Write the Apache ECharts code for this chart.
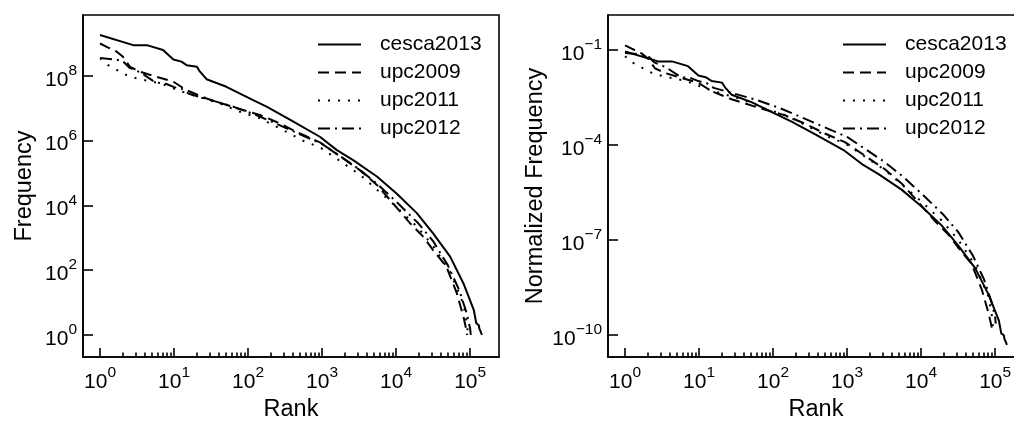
<!DOCTYPE html>
<html><head><meta charset="utf-8">
<script src="https://cdn.jsdelivr.net/npm/echarts@6/dist/echarts.min.js"></script>
<style>html,body{margin:0;padding:0;background:#fff}#c{width:1014px;height:425px}</style>
</head><body><div id="c"></div>
<script>
// ---- data (rank, raw frequency) ----
const seriesNames = ['cesca2013', 'upc2009', 'upc2011', 'upc2012'];

const cescaRank = [1, 2.8, 4.3, 7.1, 9.8, 12.6, 14.8, 20.4, 22.4, 27.5, 51, 117, 178, 372, 933, 1585, 2630, 5500, 10230, 19050, 31600, 53700, 81300, 112200, 121000, 131000, 133000, 144500];
const cescaFreq = [1.82e9, 8.9e8, 8.9e8, 6.3e8, 3.2e8, 2.75e8, 2.14e8, 1.9e8, 1.35e8, 7.9e7, 4.6e7, 1.78e7, 1.12e7, 4.4e6, 1.32e6, 5.1e5, 2.5e5, 7.8e4, 2.3e4, 5.8e3, 1.38e3, 263, 39, 5.9, 2.3, 2, 1.6, 1];

const upc2009Rank = [1, 1.23, 1.7, 2.04, 2.54, 3.47, 5.9, 9.8, 14.8, 27.5, 71, 145, 269, 501, 933, 3240, 5500, 9120, 15500, 23400, 31600, 47900, 66100, 81300, 89100, 91200];
const upc2009Freq = [1.0e9, 7.9e8, 5.5e8, 3.9e8, 1.9e8, 1.35e8, 9.3e7, 6.6e7, 3.6e7, 2.0e7, 1.0e7, 6.2e6, 3.4e6, 1.66e6, 8.9e5, 1.23e5, 4.3e4, 1.15e4, 2.8e3, 1.07e3, 417, 129, 19.5, 3.6, 1.4, 1];

const upc2011Rank = [1, 1.29, 2.29, 3.16, 6.5, 9.8, 14.8, 41.7, 77.6, 145, 331, 589, 933, 3240, 9120, 19050, 31600, 53700, 81300, 91200, 93300];
const upc2011Freq = [3.5e8, 2.14e8, 1.05e8, 8.3e7, 5.9e7, 4.1e7, 2.9e7, 1.41e7, 7.8e6, 4.9e6, 1.86e6, 9.3e5, 6.3e5, 8.9e4, 1.12e4, 2.24e3, 562, 89, 8.9, 2, 1];

const upc2012Rank = [1, 1.58, 2.0, 2.5, 3.55, 5.6, 7.9, 10, 12.6, 15.8, 31.6, 63, 126, 251, 501, 1000, 3160, 5620, 10000, 19950, 31600, 50100, 70800, 89100, 100000, 102000];
const upc2012Freq = [3.55e8, 3.2e8, 2.95e8, 1.78e8, 1.26e8, 6.3e7, 5.6e7, 4.5e7, 4.0e7, 2.8e7, 1.78e7, 1.12e7, 6.3e6, 3.2e6, 1.58e6, 7.9e5, 1.32e5, 4.5e4, 1.32e4, 2.8e3, 794, 141, 25, 5, 1.6, 1];

// total counts used for the normalized panel
const totals = [2.04e10, 7.2e9, 5.5e9, 4.4e9];

// tick values
const xMajor = [1, 10, 100, 1000, 10000, 100000];
const yMajorLeft = [1, 1e2, 1e4, 1e6, 1e8];
const yMajorRight = [1e-10, 1e-7, 1e-4, 1e-1];

// ---------------------------------------------------------
const ranks = [cescaRank, upc2009Rank, upc2011Rank, upc2012Rank];
const freqs = [cescaFreq, upc2009Freq, upc2011Freq, upc2012Freq];
const dashes = ['solid', [11, 6], [2, 8], [12, 5, 2, 5]];

const xMinor = [];
for (let d = 0; d < 5; d++) for (let k = 2; k <= 9; k++) xMinor.push(k * Math.pow(10, d));

const FONT = '"Liberation Sans", Arial, Helvetica, sans-serif';
function supLabel(v) {
  const e = Math.round(Math.log10(v));
  return '{b|10}{s|' + (e < 0 ? '\u2212' + (-e) : e) + '}';
}
const rich = {
  b: { fontSize: 21, fontFamily: FONT, color: '#000', lineHeight: 34 },
  s: { fontSize: 15.5, fontFamily: FONT, color: '#000', verticalAlign: 'top' }
};
const black = { color: '#000', width: 1.6 };

const X_MIN = Math.pow(10, -0.23), X_MAX = Math.pow(10, 5.39);
const gBase = { top: 15, width: 416, height: 342, outerBoundsMode: 'none', containLabel: false };
const grids = [
  Object.assign({ left: 83, show: true, borderColor: '#000', borderWidth: 1.6 }, gBase),
  Object.assign({ left: 83 }, gBase),
  Object.assign({ left: 608, show: true, borderColor: '#000', borderWidth: 1.6 }, gBase),
  Object.assign({ left: 608 }, gBase)
];

function mainX(gi) {
  return {
    type: 'log', logBase: 10, gridIndex: gi, min: X_MIN, max: X_MAX,
    name: 'Rank', nameLocation: 'middle', nameGap: 33,
    nameTextStyle: { fontSize: 23.5, fontFamily: FONT, color: '#000' },
    axisLine: { show: true, lineStyle: black },
    axisTick: { show: true, inside: true, length: 9, lineStyle: black, customValues: xMajor },
    axisLabel: { show: true, margin: 8, customValues: xMajor, formatter: supLabel, rich: rich },
    splitLine: { show: false }, minorTick: { show: false }
  };
}
function minorX(gi) {
  return {
    type: 'log', logBase: 10, gridIndex: gi, min: X_MIN, max: X_MAX,
    axisLine: { show: false },
    axisTick: { show: true, inside: true, length: 4.5, lineStyle: black, customValues: xMinor },
    axisLabel: { show: false }, splitLine: { show: false }
  };
}
function mainY(gi, min, max, ticks, name, gap) {
  return {
    type: 'log', logBase: 10, gridIndex: gi, min: min, max: max,
    name: name, nameLocation: 'middle', nameGap: gap,
    nameTextStyle: { fontSize: 23.5, fontFamily: FONT, color: '#000' },
    axisLine: { show: true, lineStyle: black },
    axisTick: { show: true, inside: true, length: 10, lineStyle: black, customValues: ticks },
    axisLabel: { show: true, margin: 6, padding: [8, 0, 0, 0], customValues: ticks, formatter: supLabel, rich: rich },
    splitLine: { show: false }
  };
}
function hiddenY(gi, min, max) {
  return { type: 'log', logBase: 10, gridIndex: gi, min: min, max: max, show: false };
}
const LY_MIN = Math.pow(10, -0.68), LY_MAX = Math.pow(10, 9.88);
const RY_MIN = Math.pow(10, -10.695), RY_MAX = Math.pow(10, 0.105);

const series = [];
for (let i = 0; i < 4; i++) {
  const left = ranks[i].map((r, j) => [r, freqs[i][j]]);
  const right = ranks[i].map((r, j) => [r, freqs[i][j] / totals[i]]);
  const ls = { color: '#000', width: 2, type: dashes[i] };
  series.push({ name: seriesNames[i], type: 'line', xAxisIndex: 0, yAxisIndex: 0, data: left,
    symbol: 'none', showSymbol: false, lineStyle: ls, itemStyle: { color: '#000' }, silent: true });
  series.push({ name: seriesNames[i], type: 'line', xAxisIndex: 2, yAxisIndex: 2, data: right,
    symbol: 'none', showSymbol: false, lineStyle: ls, itemStyle: { color: '#000' }, silent: true });
}

function legend(left) {
  return {
    left: left, top: 34, padding: 0, orient: 'vertical', itemWidth: 43, itemHeight: 14, itemGap: 7,
    itemStyle: { opacity: 0, color: 'rgba(0,0,0,0)', borderWidth: 0 },
    textStyle: { fontSize: 21, lineHeight: 21, fontFamily: FONT, color: '#000', padding: [0, 0, 0, 14] },
    data: seriesNames, selectedMode: false
  };
}

const chart = echarts.init(document.getElementById('c'), null, { renderer: 'canvas' });
chart.setOption({
  animation: false,
  backgroundColor: '#fff',
  grid: grids,
  xAxis: [mainX(0), minorX(1), mainX(2), minorX(3)],
  yAxis: [
    mainY(0, LY_MIN, LY_MAX, yMajorLeft, 'Frequency', 46),
    hiddenY(1, LY_MIN, LY_MAX),
    mainY(2, RY_MIN, RY_MAX, yMajorRight, 'Normalized Frequency', 60),
    hiddenY(3, LY_MIN, LY_MAX)
  ],
  legend: [legend(317), legend(842)],
  series: series
});
</script></body></html>
